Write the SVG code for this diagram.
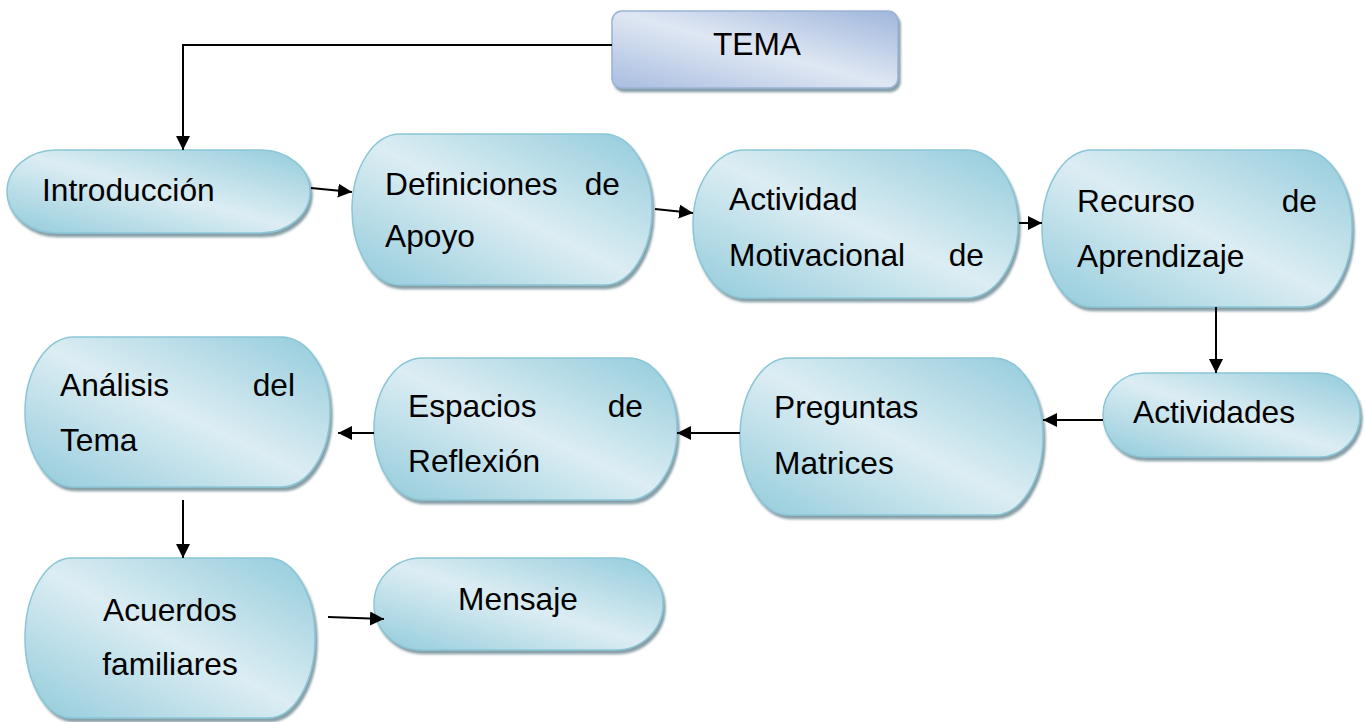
<svg xmlns="http://www.w3.org/2000/svg" width="1366" height="722" viewBox="0 0 1366 722">
<defs>
<linearGradient id="gAqua" x1="0" y1="1" x2="1" y2="0">
<stop offset="0" stop-color="#92cbdb"/>
<stop offset="0.5" stop-color="#dcedf3"/>
<stop offset="1" stop-color="#92cbdb"/>
</linearGradient>
<linearGradient id="gBlue" x1="0" y1="1" x2="1" y2="0">
<stop offset="0" stop-color="#a9bde0"/>
<stop offset="0.5" stop-color="#dfe7f3"/>
<stop offset="1" stop-color="#9fb6dc"/>
</linearGradient>
<filter id="sh" x="-10%" y="-10%" width="125%" height="130%">
<feDropShadow dx="2" dy="3.5" stdDeviation="0.8" flood-color="#5f7f89" flood-opacity="0.75"/>
</filter>
<marker id="ah" viewBox="0 0 10 10" refX="10" refY="5" markerWidth="7" markerHeight="7" markerUnits="strokeWidth" orient="auto">
<path d="M0,0 L10,5 L0,10 Z" fill="#000"/>
</marker>
</defs>
<style>
.node{fill:url(#gAqua);stroke:#8ac6d6;stroke-width:1.5;filter:url(#sh)}
.tema{fill:url(#gBlue);stroke:#9bb2d6;stroke-width:1.5;filter:url(#sh)}
text{font-family:"Liberation Sans",Arial,sans-serif;font-size:31.7px;fill:#000}
.c{text-anchor:middle}
.e{text-anchor:end}
.conn path{fill:none;stroke:#000;stroke-width:2;marker-end:url(#ah)}
</style>

<g id="n-tema">
<rect class="tema" x="612" y="11" width="286" height="77" rx="10" ry="10"/>
<text class="c" x="757" y="55">TEMA</text>
</g>

<g id="n-introduccion">
<path class="node" d="M56,150 H261 A49,41.5 0 0 1 261,233 H56 A49,41.5 0 0 1 56,150 Z"/>
<text x="42" y="201">Introducción</text>
</g>

<g id="n-definiciones">
<path class="node" d="M400,134 H604 A48,75.5 0 0 1 604,285 H400 A48,75.5 0 0 1 400,134 Z"/>
<text x="385" y="195">Definiciones</text>
<text class="e" x="620" y="195">de</text>
<text x="385" y="247">Apoyo</text>
</g>

<g id="n-actividad">
<path class="node" d="M745,150 H966 A52,74 0 0 1 966,298 H745 A52,74 0 0 1 745,150 Z"/>
<text x="729" y="210">Actividad</text>
<text x="729" y="266">Motivacional</text>
<text class="e" x="984" y="266">de</text>
</g>

<g id="n-recurso">
<path class="node" d="M1092,150 H1302 A50,78.5 0 0 1 1302,307 H1092 A50,78.5 0 0 1 1092,150 Z"/>
<text x="1077" y="212">Recurso</text>
<text class="e" x="1317" y="212">de</text>
<text x="1077" y="267">Aprendizaje</text>
</g>

<g id="n-actividades">
<path class="node" d="M1144,373 H1319 A41,42 0 0 1 1319,457 H1144 A41,42 0 0 1 1144,373 Z"/>
<text x="1133" y="423">Actividades</text>
</g>

<g id="n-preguntas">
<path class="node" d="M789,358 H994 A49,78.5 0 0 1 994,515 H789 A49,78.5 0 0 1 789,358 Z"/>
<text x="774" y="418">Preguntas</text>
<text x="774" y="474">Matrices</text>
</g>

<g id="n-espacios">
<path class="node" d="M423,358 H628 A49,71 0 0 1 628,500 H423 A49,71 0 0 1 423,358 Z"/>
<text x="408" y="417">Espacios</text>
<text class="e" x="643" y="417">de</text>
<text x="408" y="472">Reflexión</text>
</g>

<g id="n-analisis">
<path class="node" d="M74,337 H281 A49,75 0 0 1 281,487 H74 A49,75 0 0 1 74,337 Z"/>
<text x="60" y="396">Análisis</text>
<text class="e" x="295" y="396">del</text>
<text x="60" y="451">Tema</text>
</g>

<g id="n-acuerdos">
<path class="node" d="M72,558 H268 A47,80 0 0 1 268,718 H72 A47,80 0 0 1 72,558 Z"/>
<text class="c" x="170" y="621">Acuerdos</text>
<text class="c" x="170" y="675">familiares</text>
</g>

<g id="n-mensaje">
<path class="node" d="M421,558 H616 A47,46 0 0 1 616,650 H421 A47,46 0 0 1 421,558 Z"/>
<text class="c" x="518" y="610">Mensaje</text>
</g>

<g id="connectors" class="conn">
<path d="M612,45 H183 V150"/>
<path d="M311,188 L352,192"/>
<path d="M655,209 L693,213"/>
<path d="M1019,223 L1042,223"/>
<path d="M1216,307 V373"/>
<path d="M1103,420 H1043"/>
<path d="M740,433 H677"/>
<path d="M374,433 H338"/>
<path d="M183,500 V558"/>
<path d="M328,617 L384,619"/>
</g>
</svg>
